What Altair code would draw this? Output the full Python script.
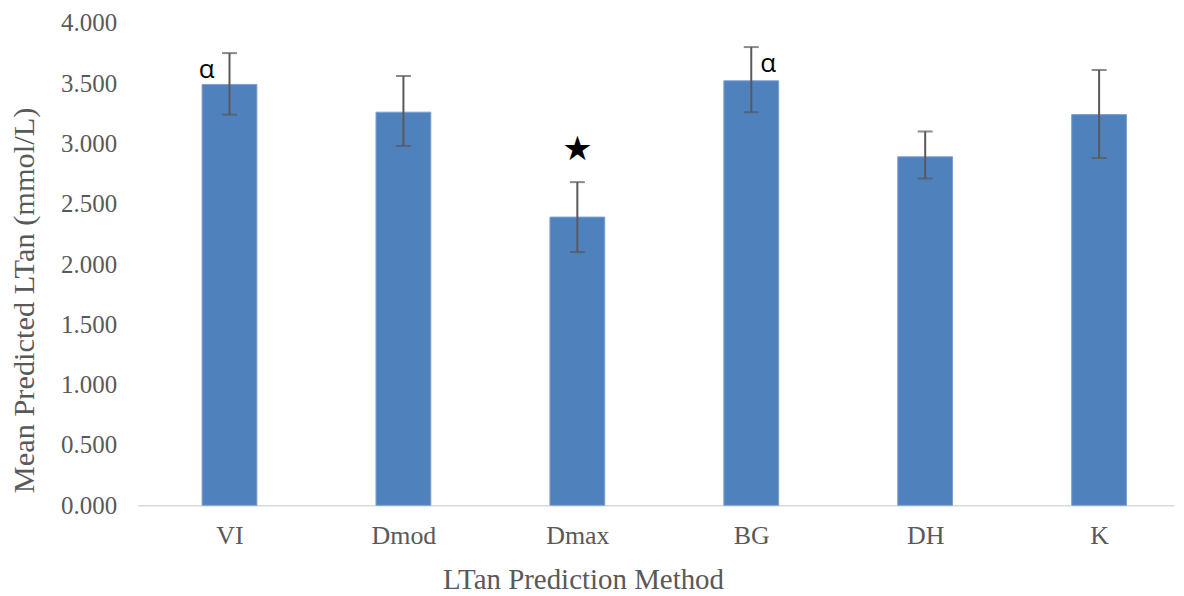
import json
import altair as alt
import pandas as pd

# ---- data ----
categories = ["VI", "Dmod", "Dmax", "BG", "DH", "K"]
means = [3.49, 3.26, 2.39, 3.52, 2.89, 3.24]
err_low = [3.24, 2.98, 2.10, 3.26, 2.71, 2.88]
err_high = [3.75, 3.56, 2.68, 3.80, 3.10, 3.61]
y_ticks = [0.0, 0.5, 1.0, 1.5, 2.0, 2.5, 3.0, 3.5, 4.0]

annot_labels = ["α", "★", "α"]
annot_categories = ["VI", "Dmax", "BG"]
annot_values = [3.54, 2.95, 3.59]

# ---- styles ----
annot_style = {
    "VI": dict(dx=-23, fontSize=26, font="Open Sans", baseline="alphabetic"),
    "Dmax": dict(dx=0, fontSize=34, font="DejaVu Sans", baseline="middle"),
    "BG": dict(dx=17, fontSize=26, font="Open Sans", baseline="alphabetic"),
}

TEXT = "#595959"
SERIF = "Liberation Serif"

idx = list(range(len(categories)))
df = pd.DataFrame({"idx": idx, "cat": categories, "mean": means,
                   "lo": err_low, "hi": err_high})

x_enc = alt.X(
    "idx:Q",
    scale=alt.Scale(domain=[-0.5, 5.402], nice=False, zero=False),
    axis=alt.Axis(
        values=idx,
        labelExpr=f"{json.dumps(categories)}[datum.value]",
        title="LTan Prediction Method",
        grid=False, ticks=False, tickSize=0,
        labelFlush=False, labelOverlap=False,
        labelPadding=17, labelFontSize=26, labelFont=SERIF, labelColor=TEXT,
        domainColor="#d9d9d9", domainWidth=1.5,
        titleFont=SERIF, titleFontSize=29, titleColor=TEXT, titleFontWeight="normal",
        titleX=447, titleY=83, titleBaseline="alphabetic", titleAlign="center",
    ),
)

def y_enc(field):
    return alt.Y(
        f"{field}:Q",
        scale=alt.Scale(domain=[0, 4], nice=False),
        axis=alt.Axis(
            values=y_ticks, format=".3f",
            title="Mean Predicted LTan (mmol/L)",
            grid=False, domain=False, ticks=False, tickSize=0,
            labelPadding=21, labelFontSize=25, labelFont=SERIF, labelColor=TEXT,
            titleFont=SERIF, titleFontSize=30.5, titleColor=TEXT, titleFontWeight="normal",
            titleX=-104, titleY=278, titleAngle=270,
            titleBaseline="alphabetic", titleAlign="center",
        ),
    )

base = alt.Chart(df)

bars = base.mark_bar(color="#4f81bd", size=55, orient="vertical",
                     stroke="#7ba0cf", strokeWidth=1).encode(
    x=x_enc, y=y_enc("mean"))

rules = base.mark_rule(color="#595959", strokeWidth=2).encode(
    x=x_enc, y=y_enc("lo"), y2="hi:Q")

cap_hi = base.mark_tick(orient="horizontal", size=15, thickness=2,
                        color="#595959").encode(x=x_enc, y=y_enc("hi"))
cap_lo = base.mark_tick(orient="horizontal", size=15, thickness=2,
                        color="#595959").encode(x=x_enc, y=y_enc("lo"))

layers = [bars, rules, cap_hi, cap_lo]
for lab, cat, val in zip(annot_labels, annot_categories, annot_values):
    adf = pd.DataFrame({"idx": [categories.index(cat)], "mean": [val], "label": [lab]})
    st = annot_style[cat]
    layers.append(
        alt.Chart(adf).mark_text(
            color="black", align="center", dx=st["dx"], fontSize=st["fontSize"],
            font=st["font"], baseline=st["baseline"],
        ).encode(x=x_enc, y=y_enc("mean"), text="label:N")
    )

chart = alt.layer(*layers).properties(
    width=1040, height=484,
    autosize="none",
    background="white",
    padding={"left": 130, "top": 14, "right": 2, "bottom": 88},
).configure_view(stroke=None, strokeWidth=0)

chart.save("out.html", embed_options={"renderer": "svg", "actions": False})
